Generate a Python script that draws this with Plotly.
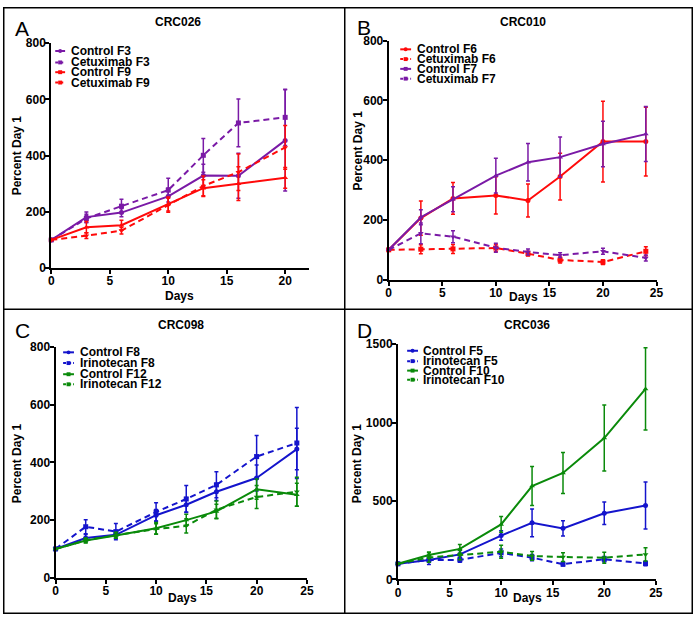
import plotly.graph_objects as go

W, H = 700, 621

# ---------------- data ----------------
A_days = [0, 3, 6, 10, 13, 16, 20]
A_ctrl_F3 = [100, 181, 197, 255, 329, 328, 454]
A_ctrl_F3_err = [0, 18, 15, 30, 40, 80, 180]
A_cetux_F3 = [100, 176, 220, 277, 401, 516, 536]
A_cetux_F3_err = [0, 15, 25, 42, 60, 85, 100]
A_ctrl_F9 = [100, 145, 152, 228, 284, 300, 321]
A_ctrl_F9_err = [0, 20, 18, 25, 30, 60, 37]
A_cetux_F9 = [100, 115, 133, 223, 292, 341, 429]
A_cetux_F9_err = [0, 10, 12, 25, 35, 65, 78]

B_days = [0, 3, 6, 10, 13, 16, 20, 24]
B_ctrl_F6 = [100, 206, 272, 282, 265, 345, 462, 462]
B_ctrl_F6_err = [0, 57, 53, 62, 55, 78, 135, 115]
B_cetux_F6 = [100, 102, 103, 106, 87, 66, 59, 95]
B_cetux_F6_err = [0, 15, 15, 12, 8, 10, 8, 15]
B_ctrl_F7 = [100, 209, 269, 348, 393, 410, 454, 487]
B_ctrl_F7_err = [0, 25, 42, 58, 63, 67, 76, 92]
B_cetux_F7 = [100, 155, 144, 107, 93, 82, 95, 73]
B_cetux_F7_err = [0, 35, 20, 15, 10, 8, 10, 10]

C_days = [0, 3, 6, 10, 13, 16, 20, 24]
C_ctrl_F8 = [100, 138, 149, 217, 253, 298, 346, 446]
C_ctrl_F8_err = [0, 12, 12, 20, 25, 30, 45, 72]
C_irino_F8 = [100, 177, 160, 228, 273, 322, 420, 467]
C_irino_F8_err = [0, 24, 28, 32, 47, 45, 73, 123]
C_ctrl_F12 = [100, 129, 147, 172, 200, 230, 307, 288]
C_ctrl_F12_err = [0, 8, 10, 20, 20, 25, 35, 40]
C_irino_F12 = [100, 130, 148, 169, 180, 236, 280, 298]
C_irino_F12_err = [0, 8, 10, 18, 25, 30, 40, 50]

D_days = [0, 3, 6, 10, 13, 16, 20, 24]
D_ctrl_F5 = [100, 125, 160, 280, 361, 326, 422, 472]
D_ctrl_F5_err = [0, 30, 25, 30, 88, 48, 72, 150]
D_irino_F5 = [100, 125, 125, 170, 139, 98, 129, 102]
D_irino_F5_err = [0, 15, 15, 25, 20, 12, 18, 15]
D_ctrl_F10 = [100, 156, 195, 351, 596, 679, 902, 1215]
D_ctrl_F10_err = [0, 20, 28, 50, 125, 130, 210, 262]
D_irino_F10 = [100, 140, 156, 177, 150, 143, 139, 160]
D_irino_F10_err = [0, 30, 30, 42, 28, 28, 35, 42]

titles = ["CRC026", "CRC010", "CRC098", "CRC036"]
letters = ["A", "B", "C", "D"]
x_ticks_A = [0, 5, 10, 15, 20]
x_ticks = [0, 5, 10, 15, 20, 25]
y_ticks_800 = [0, 200, 400, 600, 800]
y_ticks_1500 = [0, 500, 1000, 1500]

# ---------------- style ----------------
PURPLE = "#7A1AA6"
RED = "#FF0A0A"
BLUE = "#1414CC"
GREEN = "#0A8A0A"
FONT = "Liberation Sans"
DASH = "6px,4px"


def px_x(p):
    return p / W


def px_y(p):
    return 1 - p / H


# plot area pixel boxes: (left, right, top, bottom)
boxes = [
    (49, 310, 37, 267),
    (391.3, 663, 34.3, 279),
    (53.3, 308.3, 347.7, 584),
    (400.7, 662.3, 345, 585.7),
]

panels = [
    (A_days, [
        ("Control F3", A_ctrl_F3, A_ctrl_F3_err, PURPLE, "solid", "circle"),
        ("Cetuximab F3", A_cetux_F3, A_cetux_F3_err, PURPLE, DASH, "square"),
        ("Control F9", A_ctrl_F9, A_ctrl_F9_err, RED, "solid", "triangle-up"),
        ("Cetuximab F9", A_cetux_F9, A_cetux_F9_err, RED, DASH, "triangle-down"),
    ]),
    (B_days, [
        ("Control F6", B_ctrl_F6, B_ctrl_F6_err, RED, "solid", "circle"),
        ("Cetuximab F6", B_cetux_F6, B_cetux_F6_err, RED, DASH, "square"),
        ("Control F7", B_ctrl_F7, B_ctrl_F7_err, PURPLE, "solid", "triangle-up"),
        ("Cetuximab F7", B_cetux_F7, B_cetux_F7_err, PURPLE, DASH, "triangle-down"),
    ]),
    (C_days, [
        ("Control F8", C_ctrl_F8, C_ctrl_F8_err, BLUE, "solid", "circle"),
        ("Irinotecan F8", C_irino_F8, C_irino_F8_err, BLUE, DASH, "square"),
        ("Control F12", C_ctrl_F12, C_ctrl_F12_err, GREEN, "solid", "triangle-up"),
        ("Irinotecan F12", C_irino_F12, C_irino_F12_err, GREEN, DASH, "triangle-down"),
    ]),
    (D_days, [
        ("Control F5", D_ctrl_F5, D_ctrl_F5_err, BLUE, "solid", "circle"),
        ("Irinotecan F5", D_irino_F5, D_irino_F5_err, BLUE, DASH, "square"),
        ("Control F10", D_ctrl_F10, D_ctrl_F10_err, GREEN, "solid", "triangle-up"),
        ("Irinotecan F10", D_irino_F10, D_irino_F10_err, GREEN, DASH, "triangle-down"),
    ]),
]

x_ranges = [[0, 22], [0, 25], [0, 25], [0, 25]]
y_ranges = [[0, 800], [0, 800], [0, 800], [0, 1500]]
x_tickvals = [x_ticks_A, x_ticks, x_ticks, x_ticks]
y_tickvals = [y_ticks_800, y_ticks_800, y_ticks_800, y_ticks_1500]

# legend pixel geometry per panel: (line_x0, line_x1, text_x, [row centers])
legend_geo = [
    (53, 63, 67, [45, 56.7, 66.7, 77.3]),
    (403, 414, 418, [43.3, 53.3, 63.3, 73.3]),
    (61, 72, 76, [353.3, 364.3, 375.7, 386]),
    (410, 421, 424.5, [351.7, 362.3, 372, 381.3]),
]
# annotation positions: letter (x,y), title (x,y), Days (x,y), ylabel (x,y)
letter_pos = [(10, 22), (357, 21), (10, 331), (357, 331)]
title_pos = [(178, 15), (528, 15), (181, 325), (532, 325)]
days_pos = [(179, 296), (528, 297), (182, 605), (532, 605)]
ylab_pos = [(14, 152), (360, 147), (15, 467), (360, 467)]

fig = go.Figure()
layout = dict(
    width=W, height=H,
    margin=dict(l=0, r=0, t=0, b=0),
    paper_bgcolor="white", plot_bgcolor="white",
    showlegend=False,
    font=dict(family=FONT, color="black"),
)
annotations = []
shapes = []

for i, (days, series) in enumerate(panels):
    k = "" if i == 0 else str(i + 1)
    xa, ya = "x" + k, "y" + k
    l, r, t, b = boxes[i]
    for name, vals, errs, col, dash, sym in series:
        fig.add_trace(go.Scatter(
            x=days, y=vals, name=name, mode="lines+markers",
            xaxis=xa, yaxis=ya,
            line=dict(color=col, width=2, dash=dash),
            marker=dict(color=col, size=5, symbol=sym),
            error_y=dict(type="data", array=errs, visible=True,
                         color=col, thickness=1.5, width=2),
            cliponaxis=False,
        ))
    axcommon = dict(showgrid=False, zeroline=False, showline=True,
                    linecolor="black", linewidth=2, ticks="outside",
                    ticklen=4, tickwidth=2, tickcolor="black",
                    ticklabelstandoff=-3,
                    tickfont=dict(family=FONT, size=12, color="black", weight="bold"))
    layout["xaxis" + k] = dict(
        domain=[px_x(l), px_x(r)], range=x_ranges[i], anchor=ya,
        tickvals=x_tickvals[i], **axcommon)
    layout["yaxis" + k] = dict(
        domain=[px_y(b), px_y(t)], range=y_ranges[i], anchor=xa,
        tickvals=y_tickvals[i], **axcommon)

    # text
    lx, ly = letter_pos[i]
    annotations.append(dict(text=letters[i], x=px_x(lx), y=px_y(ly), xref="paper", yref="paper",
                            xanchor="left", yanchor="middle", showarrow=False,
                            font=dict(family=FONT, size=21, color="black")))
    tx, ty = title_pos[i]
    annotations.append(dict(text="<b>%s</b>" % titles[i], x=px_x(tx), y=px_y(ty), xref="paper", yref="paper",
                            xanchor="center", yanchor="middle", showarrow=False,
                            font=dict(family=FONT, size=12, color="black")))
    dx, dy = days_pos[i]
    annotations.append(dict(text="<b>Days</b>", x=px_x(dx), y=px_y(dy), xref="paper", yref="paper",
                            xanchor="center", yanchor="middle", showarrow=False,
                            font=dict(family=FONT, size=12, color="black")))
    yx, yy = ylab_pos[i]
    annotations.append(dict(text="<b>Percent Day 1</b>", x=px_x(yx), y=px_y(yy), xref="paper", yref="paper",
                            xanchor="center", yanchor="middle", showarrow=False, textangle=-90,
                            font=dict(family=FONT, size=12, color="black")))

    # manual legend
    lx0, lx1, txl, rows = legend_geo[i]
    for (name, vals, errs, col, dash, sym), ry in zip(series, rows):
        shapes.append(dict(type="line", xref="paper", yref="paper",
                           x0=px_x(lx0), x1=px_x(lx1), y0=px_y(ry), y1=px_y(ry),
                           line=dict(color=col, width=2, dash="3px,2px" if dash != "solid" else "solid")))
        mx = (lx0 + lx1) / 2
        shapes.append(dict(type="circle" if sym == "circle" else "rect", xref="paper", yref="paper",
                           x0=px_x(mx - 2), x1=px_x(mx + 2), y0=px_y(ry - 2), y1=px_y(ry + 2),
                           fillcolor=col, line=dict(color=col, width=0)))
        annotations.append(dict(text="<b>%s</b>" % name, x=px_x(txl), y=px_y(ry), xref="paper", yref="paper",
                                xanchor="left", yanchor="middle", showarrow=False,
                                font=dict(family=FONT, size=12, color="black")))

# panel frames
frame = dict(color="black", width=1.5)
shapes.append(dict(type="rect", xref="paper", yref="paper",
                   x0=px_x(0.75), x1=px_x(699.25), y0=px_y(0.75), y1=px_y(620.25), line=frame))
shapes.append(dict(type="line", xref="paper", yref="paper",
                   x0=px_x(346.7), x1=px_x(346.7), y0=0, y1=1, line=frame))
shapes.append(dict(type="line", xref="paper", yref="paper",
                   x0=0, x1=1, y0=px_y(309.3), y1=px_y(309.3), line=frame))

layout["annotations"] = annotations
layout["shapes"] = shapes
fig.update_layout(**layout)
fig.write_html(
    "out.html",
    config={"displayModeBar": False},
    post_script="document.body.style.margin='0px';document.body.style.overflow='hidden';",
)
